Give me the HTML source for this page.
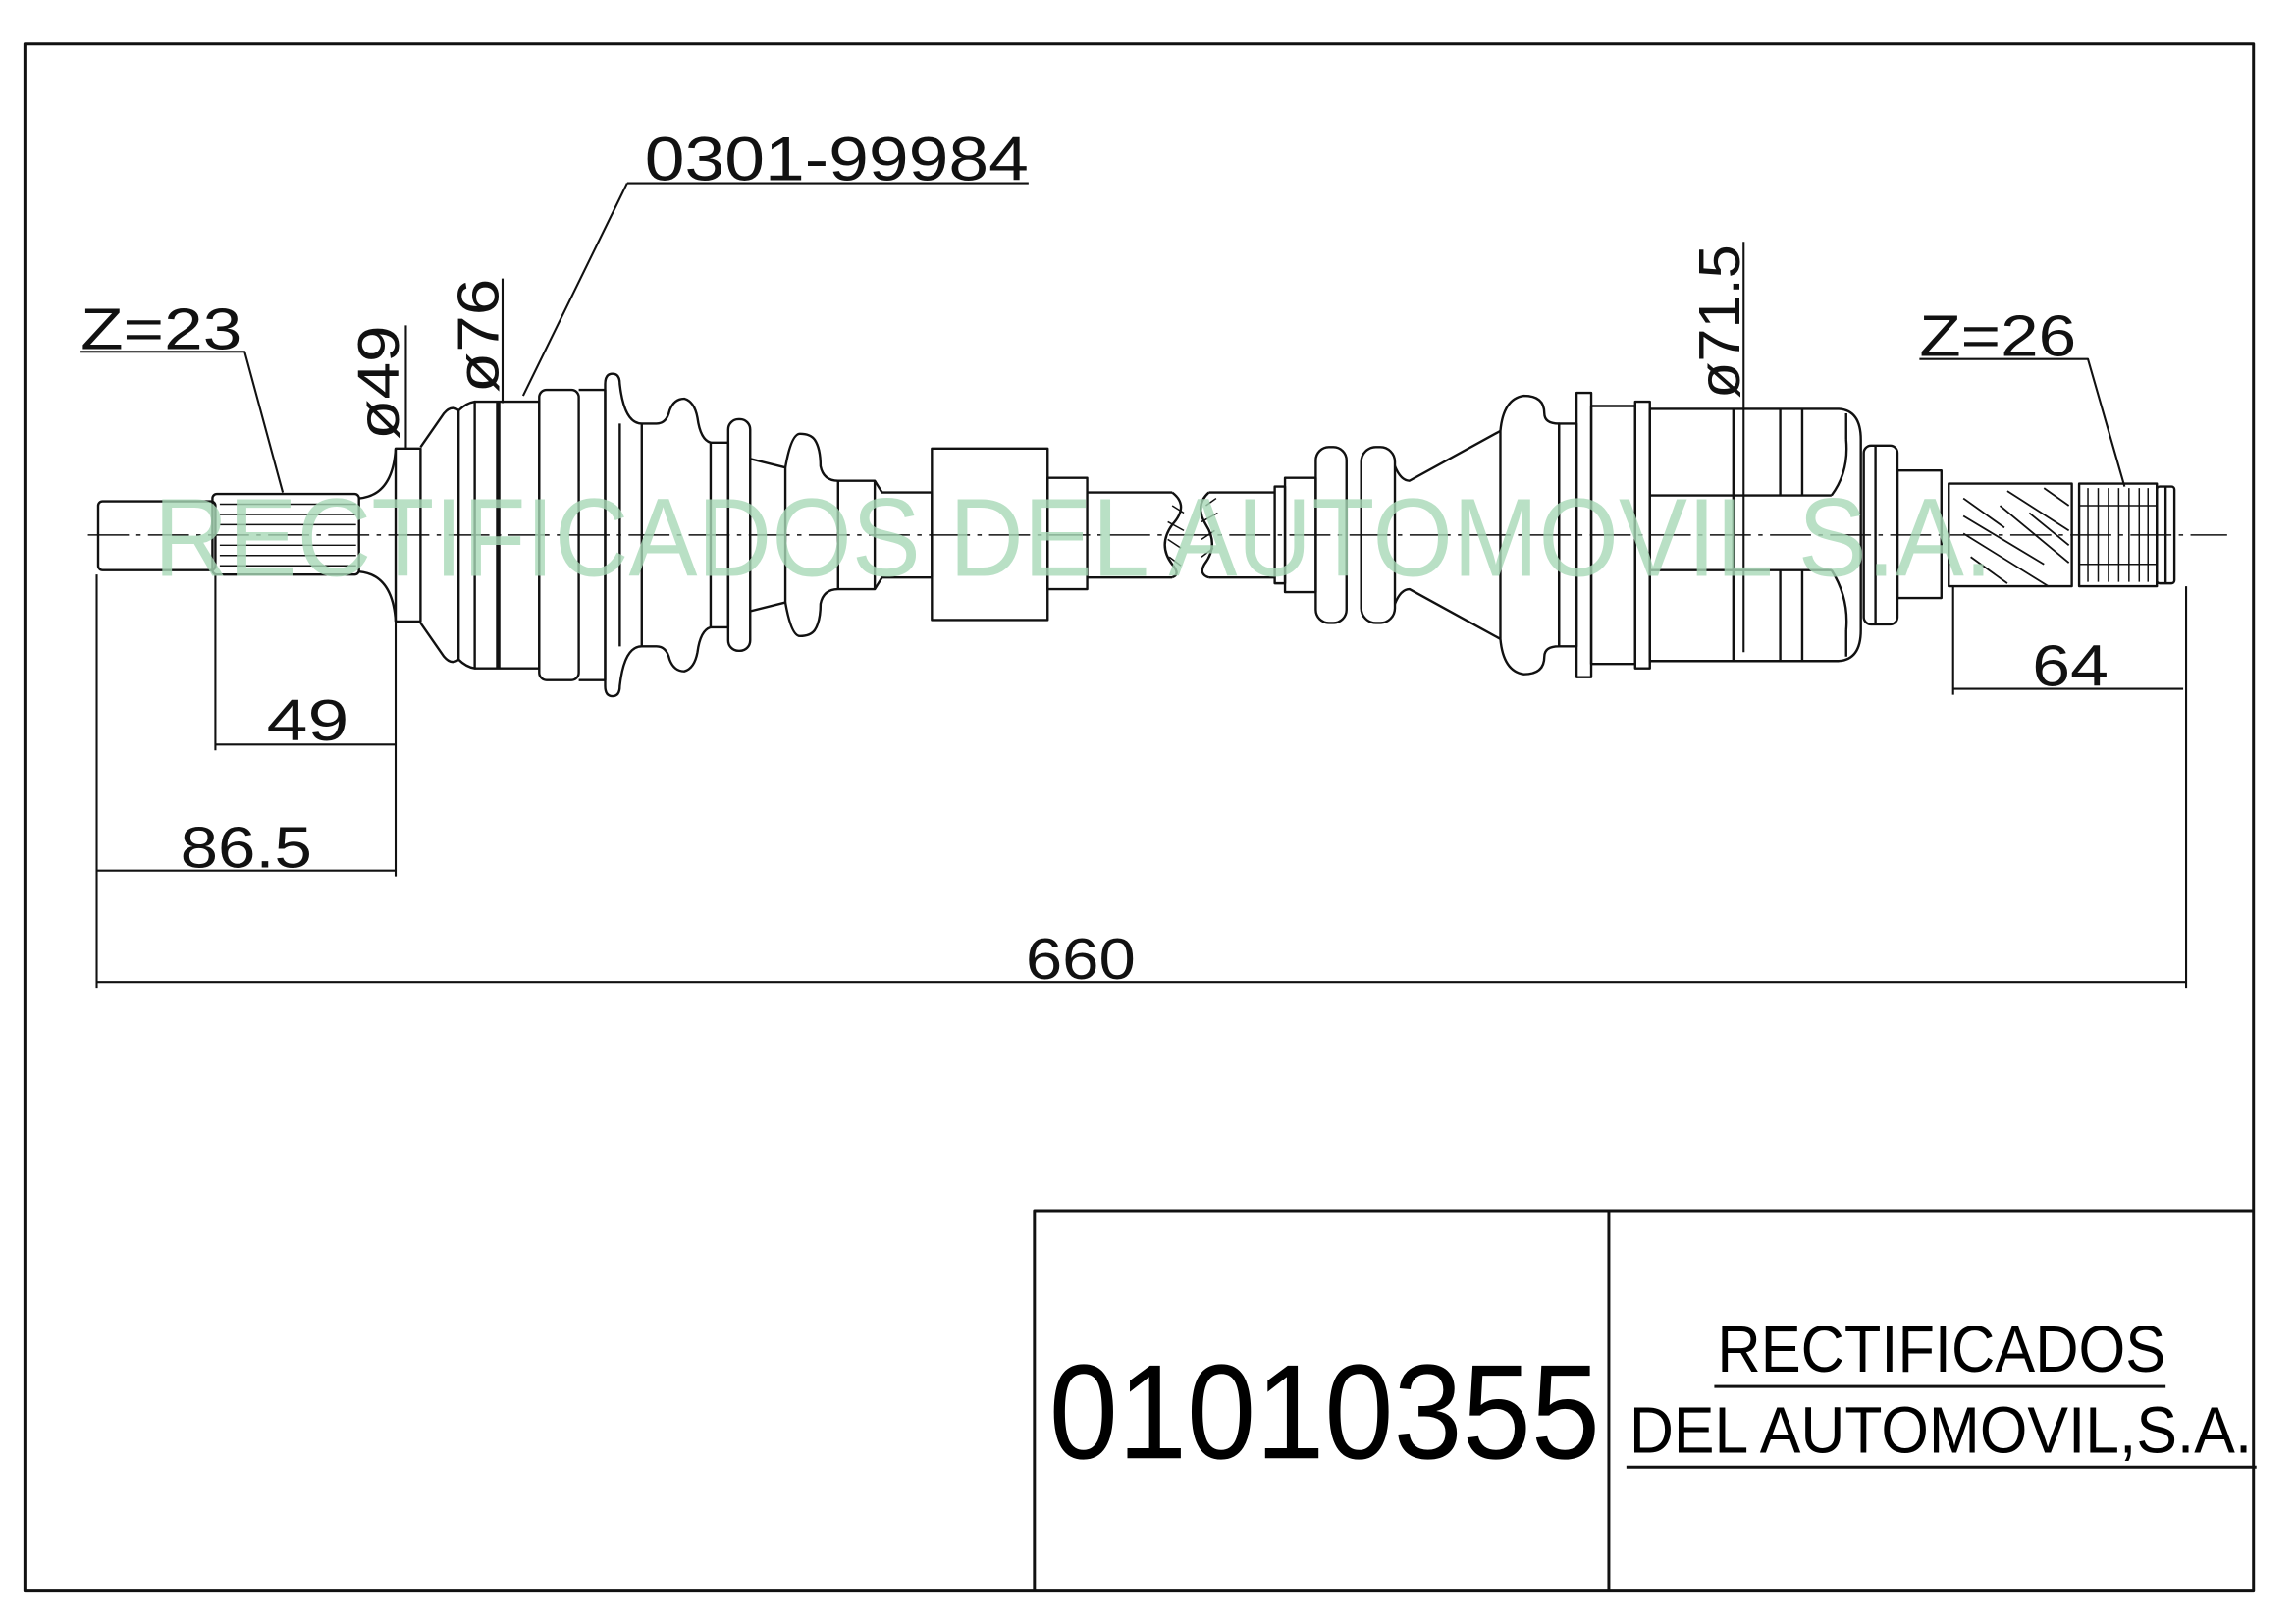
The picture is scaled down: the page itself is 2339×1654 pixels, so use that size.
<!DOCTYPE html>
<html><head><meta charset="utf-8"><style>
html,body{margin:0;padding:0;background:#fff}
svg{display:block}
.t{font-family:"Liberation Sans",sans-serif;fill:#000}
.d{font-family:"Liberation Sans",sans-serif;fill:#111}
</style></head><body>
<svg width="2339" height="1654" viewBox="0 0 1567 1108" preserveAspectRatio="none" xmlns="http://www.w3.org/2000/svg">
<g fill="none" stroke="#111" stroke-width="1.6" stroke-linejoin="round">
<rect x="17" y="30" width="1521" height="1055" stroke-width="2"/>
<path d="M706 1085V826H1538M1098 826V1085" stroke-width="2"/>
<path d="M1170 946H1478M1110 1001H1540" stroke-width="2"/>

<path d="M60 365H1520" stroke-width="1" stroke-dasharray="28 5 3 5"/>

<rect x="67" y="342" width="80" height="47" rx="3"/>
<rect x="145" y="337" width="100" height="55" rx="3"/>
<path d="M150 344H243M150 351H243M150 358H243M150 372H243M150 379H243M150 386H243" stroke-width="1"/>
<path d="M245 340Q268 338 270 306M245 390Q268 392 270 424"/>
<rect x="270" y="306" width="17" height="118"/>
<path d="M287 305L303 282Q308 276 313 280Q318 275 324 274V456Q318 455 313 450Q308 454 303 448L287 425"/>
<path d="M313 280V450M324 274H368V456H324"/>
<path d="M340 274V456" stroke-width="3"/>
<rect x="368" y="266" width="27" height="198" rx="5"/>
<path d="M395 266H413V464H395"/>
<path d="M413 262Q413 255 418 255Q423 255 423 262Q426 289 438 289H448Q455 289 457 280Q460 272 467 272Q474 274 476 285Q478 300 485 302V428Q478 430 476 445Q474 456 467 458Q460 458 457 450Q455 441 448 441H438Q426 441 423 468Q423 475 418 475Q413 475 413 468Z"/>
<path d="M423 289V441M438 289V441M485 302H497V428H485"/>
<rect x="497" y="286" width="15" height="158" rx="7"/>
<path d="M512 313L536 319V411L512 417"/>
<path d="M536 319Q540 296 546 296Q553 296 556 300Q560 306 560 318Q562 328 572 328H597L602 336H636V394H602L597 402H572Q562 402 560 412Q560 424 556 430Q553 434 546 434Q540 434 536 411"/>
<path d="M572 328V402M597 328V402"/>
<rect x="636" y="306" width="79" height="117"/>
<rect x="715" y="326" width="27" height="76"/>
<path d="M742 336H800M742 394H800"/>
<path d="M800 336Q812 345 800 358Q790 372 800 385Q806 392 800 394"/>
<path d="M800 345L808 350M797 356L808 362M797 368L806 374M798 380L806 386" stroke-width="1"/>
<path d="M825 336Q815 345 823 358Q832 372 822 385Q818 392 825 394"/>
<path d="M823 345L830 340M820 356L831 350M820 368L829 362M820 380L828 374" stroke-width="1"/>
<path d="M825 336H870M825 394H870"/>
<rect x="870" y="332" width="7" height="66"/>
<rect x="877" y="326" width="21" height="78"/>
<rect x="898" y="305" width="21" height="120" rx="9"/>
<path d="M919 340V390"/>
<rect x="929" y="305" width="23" height="120" rx="10"/>
<path d="M952 318Q956 328 962 328L1024 294M952 412Q956 402 962 402L1024 436"/>
<path d="M1024 294Q1026 272 1040 270Q1054 270 1054 282Q1054 289 1064 289V441Q1054 441 1054 448Q1054 460 1040 460Q1026 458 1024 436Z"/>
<rect x="1064" y="289" width="12" height="152"/>
<rect x="1076" y="268" width="10" height="194"/>
<rect x="1086" y="277" width="30" height="176"/>
<rect x="1116" y="274" width="10" height="182"/>
<path d="M1126 279H1255Q1270 280 1270 300V430Q1270 450 1255 451H1126Z"/>
<path d="M1126 338H1250M1126 389H1250M1183 279V451M1215 279V338M1215 389V451M1230 279V338M1230 389V451"/>
<path d="M1250 338Q1262 322 1260 300M1250 389Q1262 408 1260 430M1260 300V282M1260 430V448"/>
<rect x="1272" y="304" width="23" height="122" rx="5"/>
<path d="M1280 304V426"/>
<rect x="1295" y="321" width="30" height="87"/>
<rect x="1330" y="330" width="84" height="70"/>
<path d="M1340 340L1368 360M1340 352L1395 385M1340 364L1398 400M1345 380L1370 398M1370 335L1412 362M1395 333L1412 345M1385 350L1412 372M1365 345L1412 384" stroke-width="1.2"/>
<rect x="1419" y="330" width="53" height="70"/>
<path d="M1425 333V397M1432 333V397M1439 333V397M1446 333V397M1453 333V397M1460 333V397M1466 333V397M1419 345H1472M1419 385H1472" stroke-width="1"/>
<rect x="1472" y="332" width="12" height="66" rx="2"/>
<path d="M1478 332V398"/>

<path d="M55 240H167L193 336" stroke-width="1.4"/>
<path d="M277 222V306M343 190V275M428 125H702M428 125L357 270M1190 165V445" stroke-width="1.4"/>
<path d="M1310 245H1425L1450 332" stroke-width="1.4"/>
<path d="M147 392V512M270 424V598M147 508H270M66 392V674M66 594H270M66 670H1492M1492 400V674M1333 400V474M1333 470H1490" stroke-width="1.4"/>
</g>

<text x="105" y="393" font-family="Liberation Sans,sans-serif" font-size="76" fill="#a8d8b6" fill-opacity="0.8" textLength="1255" lengthAdjust="spacingAndGlyphs">RECTIFICADOS DEL AUTOMOVIL S.A.</text>

<text class="d" x="440" y="123" font-size="42" textLength="262" lengthAdjust="spacingAndGlyphs">0301-99984</text>
<text class="d" x="55" y="238" font-size="40" textLength="110" lengthAdjust="spacingAndGlyphs">Z=23</text>
<text class="d" x="1310" y="243" font-size="40" textLength="107" lengthAdjust="spacingAndGlyphs">Z=26</text>
<text class="d" x="182" y="505" font-size="40" textLength="56" lengthAdjust="spacingAndGlyphs">49</text>
<text class="d" x="123" y="592" font-size="40" textLength="90" lengthAdjust="spacingAndGlyphs">86.5</text>
<text class="d" x="700" y="668" font-size="40" textLength="75" lengthAdjust="spacingAndGlyphs">660</text>
<text class="d" x="1387" y="468" font-size="40" textLength="52" lengthAdjust="spacingAndGlyphs">64</text>
<text class="d" transform="translate(272,300) rotate(-90)" font-size="40" textLength="78" lengthAdjust="spacingAndGlyphs">ø49</text>
<text class="d" transform="translate(340,268) rotate(-90)" font-size="40" textLength="78" lengthAdjust="spacingAndGlyphs">ø76</text>
<text class="d" transform="translate(1187,272) rotate(-90)" font-size="40" textLength="105" lengthAdjust="spacingAndGlyphs">ø71.5</text>

<text class="t" x="716" y="995" font-size="92" textLength="376" lengthAdjust="spacingAndGlyphs">01010355</text>
<text class="t" x="1172" y="936" font-size="45" textLength="306" lengthAdjust="spacingAndGlyphs">RECTIFICADOS</text>
<text class="t" x="1112" y="991" font-size="45" textLength="425" lengthAdjust="spacingAndGlyphs">DEL AUTOMOVIL,S.A.</text>
</svg>
</body></html>
